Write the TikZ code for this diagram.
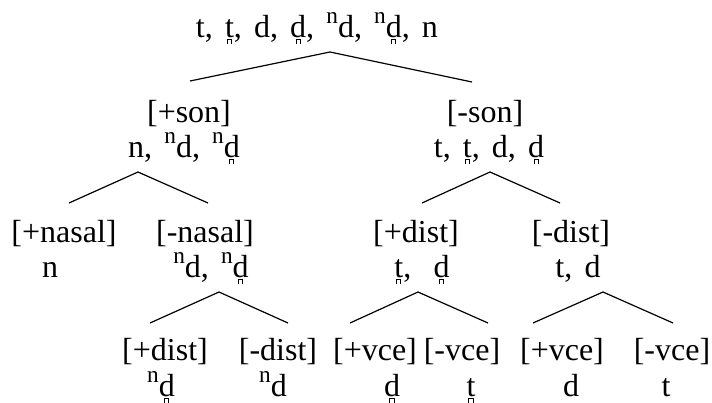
\documentclass[tikz,border=0pt]{standalone}
\usepackage{fontspec}
\setmainfont{Liberation Serif}
\newcommand\fs{\fontsize{32}{37}\selectfont}
\newcommand\nz{\raisebox{0.41em}[0pt][0pt]{\fontsize{23.3}{23.3}\selectfont n}}
\newcommand\gp{\hspace{0.38em}}
\newcommand\bridgemark{\hbox{\vrule width .03em height .14em depth 0pt\vrule width .1em height .14em depth -.11em\vrule width .03em height .14em depth 0pt}}
\newcommand\bdg[1]{{\leavevmode\setbox0=\hbox{#1}\hbox to\wd0{\hss\raisebox{-0.21em}[0pt][0pt]{\bridgemark}\hss}\kern-\wd0\box0}}
\begin{document}
\begin{tikzpicture}[x=1pt,y=-1pt,
  txt/.style={font=\fs, inner sep=0pt, anchor=base},
  br/.style={line width=1.2pt}]
\useasboundingbox (0,0) rectangle (712,402);
% level 1
\node[txt] (root) at (317,37) {t,\gp\bdg{t},\gp d,\gp\bdg{d},\gp\nz d,\gp\nz\bdg{d},\gp n};
% level 2
\node[txt] (sonP) at (189,122) {[+son]};
\node[txt] (sonPs) at (184,157) {n,\gp\nz d,\gp\nz\bdg{d}};
\node[txt] (sonM) at (485,122) {[-son]};
\node[txt] (sonMs) at (489,157) {t,\gp\bdg{t},\gp d,\gp\bdg{d}};
% level 3
\node[txt] (nasP) at (64,242) {[+nasal]};
\node[txt] (nasPs) at (50,277) {n};
\node[txt] (nasM) at (205,242) {[-nasal]};
\node[txt] (nasMs) at (211,277) {\nz d,\gp\nz\bdg{d}};
\node[txt] (distP) at (416,242) {[+dist]};
\node[txt] (distPs) at (422,277) {\bdg{t},\hspace{0.7em}\bdg{d}};
\node[txt] (distM) at (571,242) {[-dist]};
\node[txt] (distMs) at (578,277) {t,\gp d};
% level 4
\node[txt] (a1) at (165,360) {[+dist]};
\node[txt] (a1s) at (161,396) {\nz\bdg{d}};
\node[txt] (a2) at (278,360) {[-dist]};
\node[txt] (a2s) at (273,396) {\nz d};
\node[txt] (b1) at (375,360) {[+vce]};
\node[txt] (b1s) at (392,396) {\bdg{d}};
\node[txt] (b2) at (462,360) {[-vce]};
\node[txt] (b2s) at (471,396) {\bdg{t}};
\node[txt] (c1) at (562,360) {[+vce]};
\node[txt] (c1s) at (571,396) {d};
\node[txt] (c2) at (672,360) {[-vce]};
\node[txt] (c2s) at (666,396) {t};
% branch points
\coordinate (rA) at (330,52);  \coordinate (rL) at (190,81);  \coordinate (rR) at (472,82);
\coordinate (pA) at (138,172); \coordinate (pL) at (69,203);  \coordinate (pR) at (208,203);
\coordinate (mA) at (490,172); \coordinate (mL) at (422,203); \coordinate (mR) at (560,203);
\coordinate (xA) at (219,292); \coordinate (xL) at (150,323); \coordinate (xR) at (288,323);
\coordinate (yA) at (418,292); \coordinate (yL) at (350,323); \coordinate (yR) at (488,323);
\coordinate (zA) at (603,292); \coordinate (zL) at (533,323); \coordinate (zR) at (673,323);
\draw[br] (rL) -- (rA) -- (rR);
\draw[br] (pL) -- (pA) -- (pR);
\draw[br] (mL) -- (mA) -- (mR);
\draw[br] (xL) -- (xA) -- (xR);
\draw[br] (yL) -- (yA) -- (yR);
\draw[br] (zL) -- (zA) -- (zR);
\end{tikzpicture}
\end{document}
